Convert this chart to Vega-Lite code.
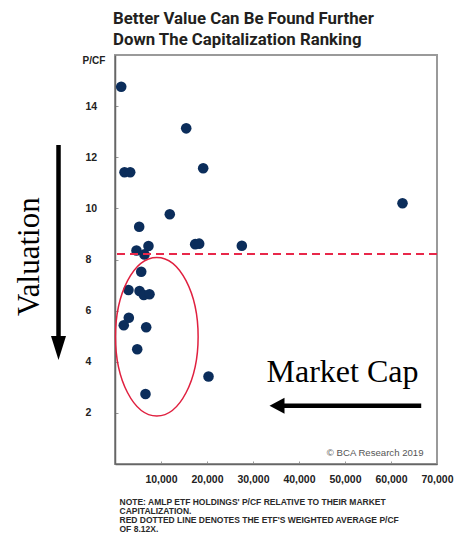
{
  "$schema": "https://vega.github.io/schema/vega-lite/v6.json",
  "autosize": {"type": "none"},
  "width": 322,
  "height": 409,
  "padding": {"left": 115, "top": 55, "right": 18, "bottom": 73},
  "background": "white",
  "title": {
    "text": ["Better Value Can Be Found Further", "Down The Capitalization Ranking"],
    "anchor": "start",
    "frame": "group",
    "font": "Roboto, Liberation Sans, sans-serif",
    "fontSize": 16.8,
    "fontWeight": "bold",
    "lineHeight": 21.7,
    "color": "#231f20",
    "offset": 6,
    "dx": -2
  },
  "datasets": {
    "holdings": [
      {"cap": 1350, "pcf": 14.76},
      {"cap": 15480, "pcf": 13.13},
      {"cap": 2070, "pcf": 11.41},
      {"cap": 3300, "pcf": 11.41},
      {"cap": 19170, "pcf": 11.57},
      {"cap": 11910, "pcf": 9.77},
      {"cap": 5260, "pcf": 9.28},
      {"cap": 17430, "pcf": 8.6},
      {"cap": 18300, "pcf": 8.62},
      {"cap": 27570, "pcf": 8.54},
      {"cap": 4670, "pcf": 8.35},
      {"cap": 7280, "pcf": 8.53},
      {"cap": 6410, "pcf": 8.2},
      {"cap": 5700, "pcf": 7.52},
      {"cap": 2930, "pcf": 6.81},
      {"cap": 5330, "pcf": 6.77},
      {"cap": 6260, "pcf": 6.61},
      {"cap": 7500, "pcf": 6.64},
      {"cap": 3000, "pcf": 5.72},
      {"cap": 1910, "pcf": 5.43},
      {"cap": 6780, "pcf": 5.35},
      {"cap": 4830, "pcf": 4.49},
      {"cap": 20330, "pcf": 3.42},
      {"cap": 6630, "pcf": 2.74},
      {"cap": 62500, "pcf": 10.2}
    ],
    "average": [{"pcf": 8.22}],
    "ellipse": [{"cap": 9090, "pcf": 4.98}],
    "shafts": [
      {"name": "valuation", "cap": -12280, "pcf": 12.48, "cap2": -12280, "pcf2": 4.85},
      {"name": "marketcap", "cap": 36410, "pcf": 2.28, "cap2": 66570, "pcf2": 2.28}
    ],
    "heads": [
      {"name": "valuation", "cap": -12280, "pcf": 4.07},
      {"name": "marketcap", "cap": 33590, "pcf": 2.28}
    ],
    "labels": [
      {"kind": "valuation", "label": "Valuation", "cap": -16570, "pcf": 8.11},
      {"kind": "marketcap", "label": "Market Cap", "cap": 49460, "pcf": 3.21},
      {"kind": "source", "label": "© BCA Research 2019", "cap": 67070, "pcf": 0.42},
      {"kind": "note", "label": "NOTE: AMLP ETF HOLDINGS' P/CF RELATIVE TO THEIR MARKET", "cap": 980, "pcf": -1.47},
      {"kind": "note", "label": "CAPITALIZATION.", "cap": 980, "pcf": -1.82},
      {"kind": "note", "label": "RED DOTTED LINE DENOTES THE ETF'S WEIGHTED AVERAGE P/CF", "cap": 980, "pcf": -2.21},
      {"kind": "note", "label": "OF 8.12X.", "cap": 980, "pcf": -2.56}
    ]
  },
  "layer": [
    {
      "data": {"name": "holdings"},
      "mark": {"type": "circle", "size": 112, "color": "#0b2d5b", "opacity": 1},
      "encoding": {
        "x": {
          "field": "cap", "type": "quantitative",
          "scale": {"domain": [0, 70000], "nice": false},
          "axis": {
            "values": [10000, 20000, 30000, 40000, 50000, 60000, 70000],
            "format": ",.0f",
            "title": null,
            "grid": false,
            "labelOverlap": false,
            "labelFlush": false,
            "labelFont": "Liberation Sans, Arial, sans-serif",
            "labelFontSize": 10.5,
            "labelFontWeight": "bold",
            "labelColor": "#222",
            "labelPadding": 13.5,
            "tickSize": -3,
            "tickColor": "#999",
            "domainColor": "#666",
            "domainWidth": 1.5
          }
        },
        "y": {
          "field": "pcf", "type": "quantitative",
          "scale": {"domain": [0, 16], "nice": false},
          "axis": {
            "values": [2, 4, 6, 8, 10, 12, 14],
            "title": "P/CF",
            "titleAngle": 0,
            "titleX": -33,
            "titleY": 5,
            "titleAlign": "left",
            "titleBaseline": "middle",
            "titleFont": "Liberation Sans, Arial, sans-serif",
            "titleFontSize": 10,
            "titleFontWeight": "bold",
            "titleColor": "#222",
            "grid": false,
            "labelOverlap": false,
            "labelFont": "Liberation Sans, Arial, sans-serif",
            "labelFontSize": 10.5,
            "labelFontWeight": "bold",
            "labelColor": "#222",
            "labelAlign": "left",
            "labelBaseline": "middle",
            "labelPadding": 33,
            "tickSize": -3,
            "tickColor": "#999",
            "domainColor": "#666",
            "domainWidth": 1.5
          }
        }
      }
    },
    {
      "data": {"name": "average"},
      "mark": {"type": "rule", "color": "#e8284a", "strokeWidth": 2, "strokeDash": [8, 5]},
      "encoding": {"y": {"field": "pcf", "type": "quantitative"}}
    },
    {
      "data": {"name": "ellipse"},
      "mark": {
        "type": "point",
        "shape": "M -0.521 0 A 0.521 1 0 1 0 0.521 0 A 0.521 1 0 1 0 -0.521 0 Z",
        "size": 25154,
        "filled": false,
        "stroke": "#e0203f",
        "strokeWidth": 1.5,
        "opacity": 1
      },
      "encoding": {
        "x": {"field": "cap", "type": "quantitative"},
        "y": {"field": "pcf", "type": "quantitative"}
      }
    },
    {
      "data": {"name": "shafts"},
      "mark": {"type": "rule", "color": "black", "strokeWidth": 4.5},
      "encoding": {
        "x": {"field": "cap", "type": "quantitative"},
        "y": {"field": "pcf", "type": "quantitative"},
        "x2": {"field": "cap2"},
        "y2": {"field": "pcf2"}
      }
    },
    {
      "data": {"name": "heads"},
      "transform": [{"filter": "datum.name === 'valuation'"}],
      "mark": {
        "type": "point",
        "shape": "M 0 0 L -0.5 -1.6 L 0.5 -1.6 Z",
        "size": 900,
        "filled": true,
        "color": "black",
        "opacity": 1,
        "strokeWidth": 0
      },
      "encoding": {
        "x": {"field": "cap", "type": "quantitative"},
        "y": {"field": "pcf", "type": "quantitative"}
      }
    },
    {
      "data": {"name": "heads"},
      "transform": [{"filter": "datum.name === 'marketcap'"}],
      "mark": {
        "type": "point",
        "shape": "M 0 0 L 1.875 -1 L 1.875 1 Z",
        "size": 256,
        "filled": true,
        "color": "black",
        "opacity": 1,
        "strokeWidth": 0
      },
      "encoding": {
        "x": {"field": "cap", "type": "quantitative"},
        "y": {"field": "pcf", "type": "quantitative"}
      }
    },
    {
      "data": {"name": "labels"},
      "transform": [{"filter": "datum.kind === 'valuation'"}],
      "mark": {"type": "text", "font": "Liberation Serif, Times New Roman, serif", "fontSize": 31, "angle": 270, "align": "center", "baseline": "alphabetic", "color": "black"},
      "encoding": {
        "x": {"field": "cap", "type": "quantitative"},
        "y": {"field": "pcf", "type": "quantitative"},
        "text": {"field": "label"}
      }
    },
    {
      "data": {"name": "labels"},
      "transform": [{"filter": "datum.kind === 'marketcap'"}],
      "mark": {"type": "text", "font": "Liberation Serif, Times New Roman, serif", "fontSize": 32, "align": "center", "baseline": "alphabetic", "color": "black"},
      "encoding": {
        "x": {"field": "cap", "type": "quantitative"},
        "y": {"field": "pcf", "type": "quantitative"},
        "text": {"field": "label"}
      }
    },
    {
      "data": {"name": "labels"},
      "transform": [{"filter": "datum.kind === 'source'"}],
      "mark": {"type": "text", "font": "Liberation Sans, Arial, sans-serif", "fontSize": 9.6, "align": "right", "baseline": "middle", "color": "#555"},
      "encoding": {
        "x": {"field": "cap", "type": "quantitative"},
        "y": {"field": "pcf", "type": "quantitative"},
        "text": {"field": "label"}
      }
    },
    {
      "data": {"name": "labels"},
      "transform": [{"filter": "datum.kind === 'note'"}],
      "mark": {"type": "text", "font": "Liberation Sans, Arial, sans-serif", "fontSize": 8.5, "fontWeight": "bold", "align": "left", "baseline": "middle", "color": "#2a2a2a"},
      "encoding": {
        "x": {"field": "cap", "type": "quantitative"},
        "y": {"field": "pcf", "type": "quantitative"},
        "text": {"field": "label"}
      }
    }
  ],
  "config": {
    "view": {"stroke": "#9a9a9a", "strokeWidth": 2},
    "axis": {"grid": false}
  }
}
